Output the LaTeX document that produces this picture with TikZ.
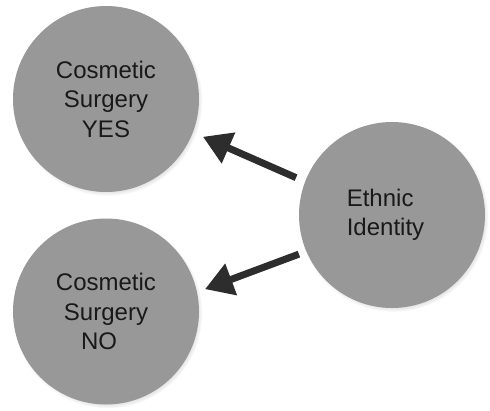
\documentclass[tikz,border=0pt]{standalone}
\usepackage{fontspec}
\setmainfont{Liberation Sans}
\usepackage{tikz}
\usetikzlibrary{arrows.meta,shadows}
\definecolor{ballgray}{RGB}{152,152,152}
\definecolor{arrowgray}{RGB}{45,45,45}

\begin{document}
\begin{tikzpicture}[x=1pt, y=1pt,
    ball/.style={circle, fill=ballgray, minimum size=186pt, inner sep=0pt, outer sep=0pt,
      circular drop shadow={shadow scale=1.02, shadow xshift=1.5pt, shadow yshift=-2pt, opacity=.6},
      font=\fontsize{24}{29.5}\selectfont, text=black!90},
    link/.style={line width=7pt, draw=arrowgray, -{Triangle[length=28pt,width=32pt]}}]
      \useasboundingbox (0,0) rectangle (490,-410);

      \node[ball, align=center] (Yes) at (106, -99) {Cosmetic\\Surgery\\YES};
      \node[ball, align=center] (No) at (106, -311.5) {Cosmetic\\Surgery\\NO\hspace*{14pt}};
      \node[ball, align=left] (Eth) at (392, -215) {Ethnic\\Identity\hspace*{13pt}};

      \draw[link, shorten <=10pt, shorten >=11pt] (Eth.159) -- (Yes.339);
      \draw[link, shorten <=8pt, shorten >=8.5pt] (Eth.203) -- (No.12);
    \end{tikzpicture}
\end{document}
